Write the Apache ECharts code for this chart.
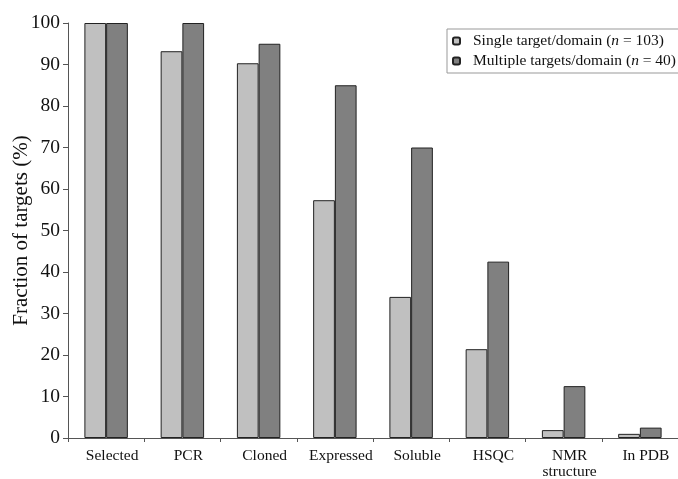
<!DOCTYPE html>
<html><head><meta charset="utf-8">
<script src="https://cdn.jsdelivr.net/npm/echarts@6/dist/echarts.min.js"></script>
<style>html,body{margin:0;padding:0;background:#fff}#c{width:678px;height:479px}</style>
</head><body><div id="c"></div>
<script>
const categories = ['Selected','PCR','Cloned','Expressed','Soluble','HSQC','NMR\nstructure','In PDB'];
const singleValues = [100, 93.2, 90.3, 57.3, 34.0, 21.4, 1.9, 1.0];
const multipleValues = [100, 100, 95, 85, 70, 42.5, 12.5, 2.5];
const yTicks = [0,10,20,30,40,50,60,70,80,90,100];

const font = 'Liberation Serif';
const chart = echarts.init(document.getElementById('c'));
chart.setOption({
  animation: false,
  textStyle: {fontFamily: font},
  grid: {left: 68, right: 0, top: 23, bottom: 41, outerBoundsMode: 'none', containLabel: false},
  legend: {
    orient: 'vertical', left: 447, top: 29,
    padding: [4, 8, 4, 5],
    borderColor: '#999', borderWidth: 1, backgroundColor: '#fff',
    itemWidth: 7, itemHeight: 7, itemGap: 4,
    textStyle: {fontFamily: font, fontSize: 15.5, color: '#111', padding: [0, 0, 0, 8],
      rich: {i: {fontStyle: 'italic', fontFamily: font, fontSize: 15.5, color: '#111'}}},
    formatter: function(name){
      if (name.indexOf('Single') === 0) return 'Single target/domain ({i|n} = 103)';
      return 'Multiple targets/domain ({i|n} = 40)';
    },
    data: ['Single target/domain', 'Multiple targets/domain']
  },
  xAxis: {
    type: 'category', data: categories,
    axisLine: {lineStyle: {color: '#555', width: 1}},
    axisTick: {show: true, length: 4, alignWithLabel: false, lineStyle: {color: '#555'}},
    axisLabel: {fontFamily: font, fontSize: 15.5, color: '#111', margin: 10, lineHeight: 16,
      interval: 0, padding: [0, 0, 0, 12]}
  },
  yAxis: {
    type: 'value', min: 0, max: 100, interval: 10,
    name: 'Fraction of targets (%)', nameLocation: 'middle', nameGap: 36, nameMoveOverlap: false,
    nameTextStyle: {fontFamily: font, fontSize: 21, color: '#111'},
    axisLine: {show: true, lineStyle: {color: '#555', width: 1}},
    axisTick: {show: true, length: 5, inside: false, lineStyle: {color: '#555'}},
    splitLine: {show: false},
    axisLabel: {fontFamily: font, fontSize: 19.5, color: '#111', margin: 8,
      formatter: function(v){ return yTicks.indexOf(v) >= 0 ? String(v) : ''; }}
  },
  series: [
    {name: 'Single target/domain', type: 'bar', data: singleValues,
     barGap: '0%', barCategoryGap: '43%',
     itemStyle: {color: '#c0c0c0', borderColor: '#222', borderWidth: 1}},
    {name: 'Multiple targets/domain', type: 'bar', data: multipleValues,
     itemStyle: {color: '#808080', borderColor: '#222', borderWidth: 1}}
  ]
});
</script></body></html>
